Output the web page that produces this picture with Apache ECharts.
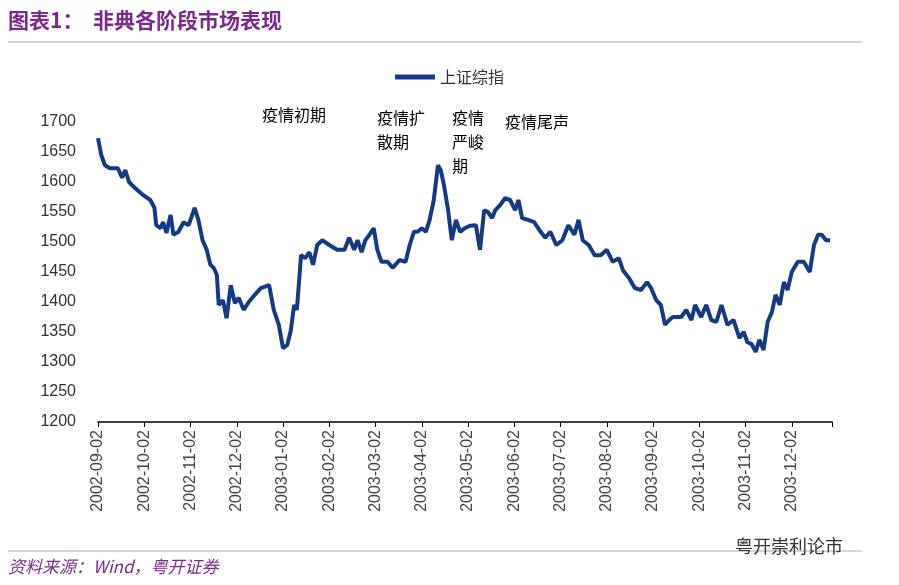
<!DOCTYPE html>
<html lang="zh">
<head>
  <meta charset="UTF-8">
  <title>非典各阶段市场表现</title>
  <script src="https://cdn.jsdelivr.net/npm/echarts@6/dist/echarts.min.js"></script>
  <style>
    body { margin: 0; background: #fff; }
    #echarts { width: 899px; height: 585px; }
  </style>
</head>
<body>
  <div id="echarts"></div>
  <script>
    // 横轴刻度标签 (每个刻度一个月)
    const tickLabels = ['2002-09-02', '2002-10-02', '2002-11-02', '2002-12-02', '2003-01-02', '2003-02-02',
      '2003-03-02', '2003-04-02', '2003-05-02', '2003-06-02', '2003-07-02', '2003-08-02',
      '2003-09-02', '2003-10-02', '2003-11-02', '2003-12-02']
    // 位置: 距 2002-09-02 的月数
    const monthPos = [0, .07, .15, .26, .43, .52, .59, .67, .80, .98, 1.13, 1.22, 1.26, 1.35, 1.41, 1.48, 1.57, 1.63, 1.74, 1.85, 1.96,
      2.09, 2.17, 2.26, 2.35, 2.43, 2.50, 2.57, 2.61, 2.70, 2.78, 2.87, 2.96, 3.04, 3.15, 3.26, 3.39, 3.52, 3.70, 3.80, 3.91,
      4.00, 4.09, 4.17, 4.24, 4.30, 4.39, 4.48, 4.57, 4.65, 4.74, 4.85, 5.00, 5.17, 5.33, 5.43, 5.54, 5.61, 5.70, 5.78, 5.87,
      5.96, 6.04, 6.13, 6.26, 6.37, 6.52, 6.65, 6.74, 6.83, 6.91, 7.00, 7.09, 7.17, 7.26, 7.35, 7.41, 7.48, 7.57, 7.65, 7.74,
      7.83, 7.93, 8.04, 8.17, 8.26, 8.35, 8.43, 8.52, 8.59, 8.70, 8.80, 8.91, 9.02, 9.09, 9.17, 9.30, 9.43, 9.57, 9.67, 9.78,
      9.91, 10.04, 10.17, 10.30, 10.39, 10.48, 10.61, 10.74, 10.87, 11.00, 11.13, 11.26, 11.35, 11.48, 11.61, 11.74, 11.87,
      11.96, 12.07, 12.17, 12.26, 12.35, 12.43, 12.61, 12.72, 12.83, 12.91, 13.04, 13.15, 13.26, 13.37, 13.48, 13.61, 13.74,
      13.87, 13.96, 14.04, 14.13, 14.22, 14.30, 14.39, 14.48, 14.57, 14.65, 14.74, 14.83, 14.91, 15.00, 15.13, 15.26, 15.39,
      15.48, 15.57, 15.65, 15.74, 15.83]
    // 上证综指
    const szIndex = [1673, 1645, 1628, 1623, 1623, 1607, 1620, 1600, 1590, 1578, 1570, 1557, 1528, 1523, 1533, 1515, 1545, 1512, 1517, 1533, 1528,
      1557, 1537, 1503, 1487, 1462, 1457, 1445, 1395, 1403, 1373, 1428, 1398, 1407, 1387, 1400, 1412, 1423, 1428, 1387, 1362,
      1323, 1328, 1353, 1395, 1387, 1478, 1473, 1483, 1462, 1495, 1503, 1495, 1487, 1487, 1507, 1487, 1503, 1483, 1503, 1512,
      1523, 1487, 1467, 1467, 1457, 1470, 1467, 1495, 1517, 1517, 1523, 1517, 1537, 1570, 1628, 1620, 1595, 1553, 1503, 1537,
      1517, 1523, 1527, 1528, 1487, 1553, 1550, 1540, 1553, 1562, 1573, 1570, 1553, 1570, 1540, 1537, 1533, 1517, 1507, 1517,
      1495, 1503, 1528, 1512, 1537, 1503, 1495, 1478, 1478, 1487, 1467, 1473, 1453, 1440, 1423, 1420, 1433,
      1423, 1403, 1395, 1362, 1370, 1375, 1375, 1387, 1370, 1395, 1375, 1395, 1370, 1367, 1395, 1362, 1370,
      1340, 1350, 1333, 1330, 1317, 1337, 1320, 1367, 1383, 1412, 1395, 1433, 1420, 1450, 1467, 1467, 1450,
      1495, 1512, 1512, 1503, 1503]
    // 阶段分界 (月数)
    const phaseLines = [2.57, 5.76, 7.46, 8.48, 10.39]

    let charts = echarts.init(document.querySelector('#echarts'))
    const font = '"Noto Sans CJK SC", sans-serif'
    const phaseText = (left, top, text) => ({
      type: 'text', left, top,
      style: { text, font: '16px ' + font, fill: '#000', lineHeight: 24 }
    })
    let option = {
      textStyle: { fontFamily: font },
      legend: {
        top: 64, left: 'center',
        itemWidth: 40, itemHeight: 5, icon: 'rect',
        textStyle: { fontSize: 16, color: '#333' },
        data: ['上证综指']
      },
      grid: { left: 98, right: 67, top: 122, bottom: 163 },
      xAxis: {
        type: 'value', min: 0, max: 15.87, interval: 1,
        splitLine: { show: false },
        axisLine: { lineStyle: { color: '#000', width: 1.5 } },
        axisTick: { show: true, length: 5, lineStyle: { color: '#000' } },
        axisLabel: {
          rotate: 90, fontSize: 16, color: '#444', margin: 8, fontFamily: 'Liberation Sans',
          formatter: v => tickLabels[Math.round(v)] || ''
        }
      },
      yAxis: {
        type: 'value', min: 1200, max: 1700, interval: 50,
        splitLine: { show: false },
        axisLine: { show: false },
        axisTick: { show: false },
        axisLabel: { fontSize: 16, color: '#333', margin: 22, fontFamily: 'Liberation Sans', formatter: v => String(v) }
      },
      series: [{
        name: '上证综指', type: 'line', clip: false,
        data: monthPos.map((t, i) => [t, szIndex[i]]),
        showSymbol: false,
        lineStyle: { color: '#143a86', width: 4 },
        itemStyle: { color: '#143a86' },
        markLine: {
          symbol: 'none', silent: true, label: { show: false },
          lineStyle: { color: '#f0b323', type: [8, 5], width: 2 },
          data: phaseLines.map(x => [{ coord: [x, 1200] }, { coord: [x, 1733] }])
        }
      }],
      graphic: [
        { type: 'text', left: 8, top: 10, style: { text: '图表1：  非典各阶段市场表现', font: 'bold 21px ' + font, fill: '#7a2a8c' } },
        { type: 'line', shape: { x1: 8, y1: 42, x2: 862, y2: 42 }, style: { stroke: '#aaa', lineWidth: 1 } },
        phaseText(262, 103, '疫情初期'),
        phaseText(377, 106, '疫情扩\n散期'),
        phaseText(452, 106, '疫情\n严峻\n期'),
        phaseText(505, 110, '疫情尾声'),
        { type: 'line', shape: { x1: 8, y1: 551, x2: 862, y2: 551 }, style: { stroke: '#aaa', lineWidth: 1 } },
        { type: 'text', left: 8, top: 558, style: { text: '资料来源：Wind，粤开证券', font: 'italic 17px ' + font, fill: '#7a2a8c' } },
        { type: 'text', left: 735, top: 537, style: { text: '粤开崇利论市', font: '18px ' + font, fill: '#333' } }
      ]
    }
    charts.setOption(option)
  </script>
</body>
</html>
